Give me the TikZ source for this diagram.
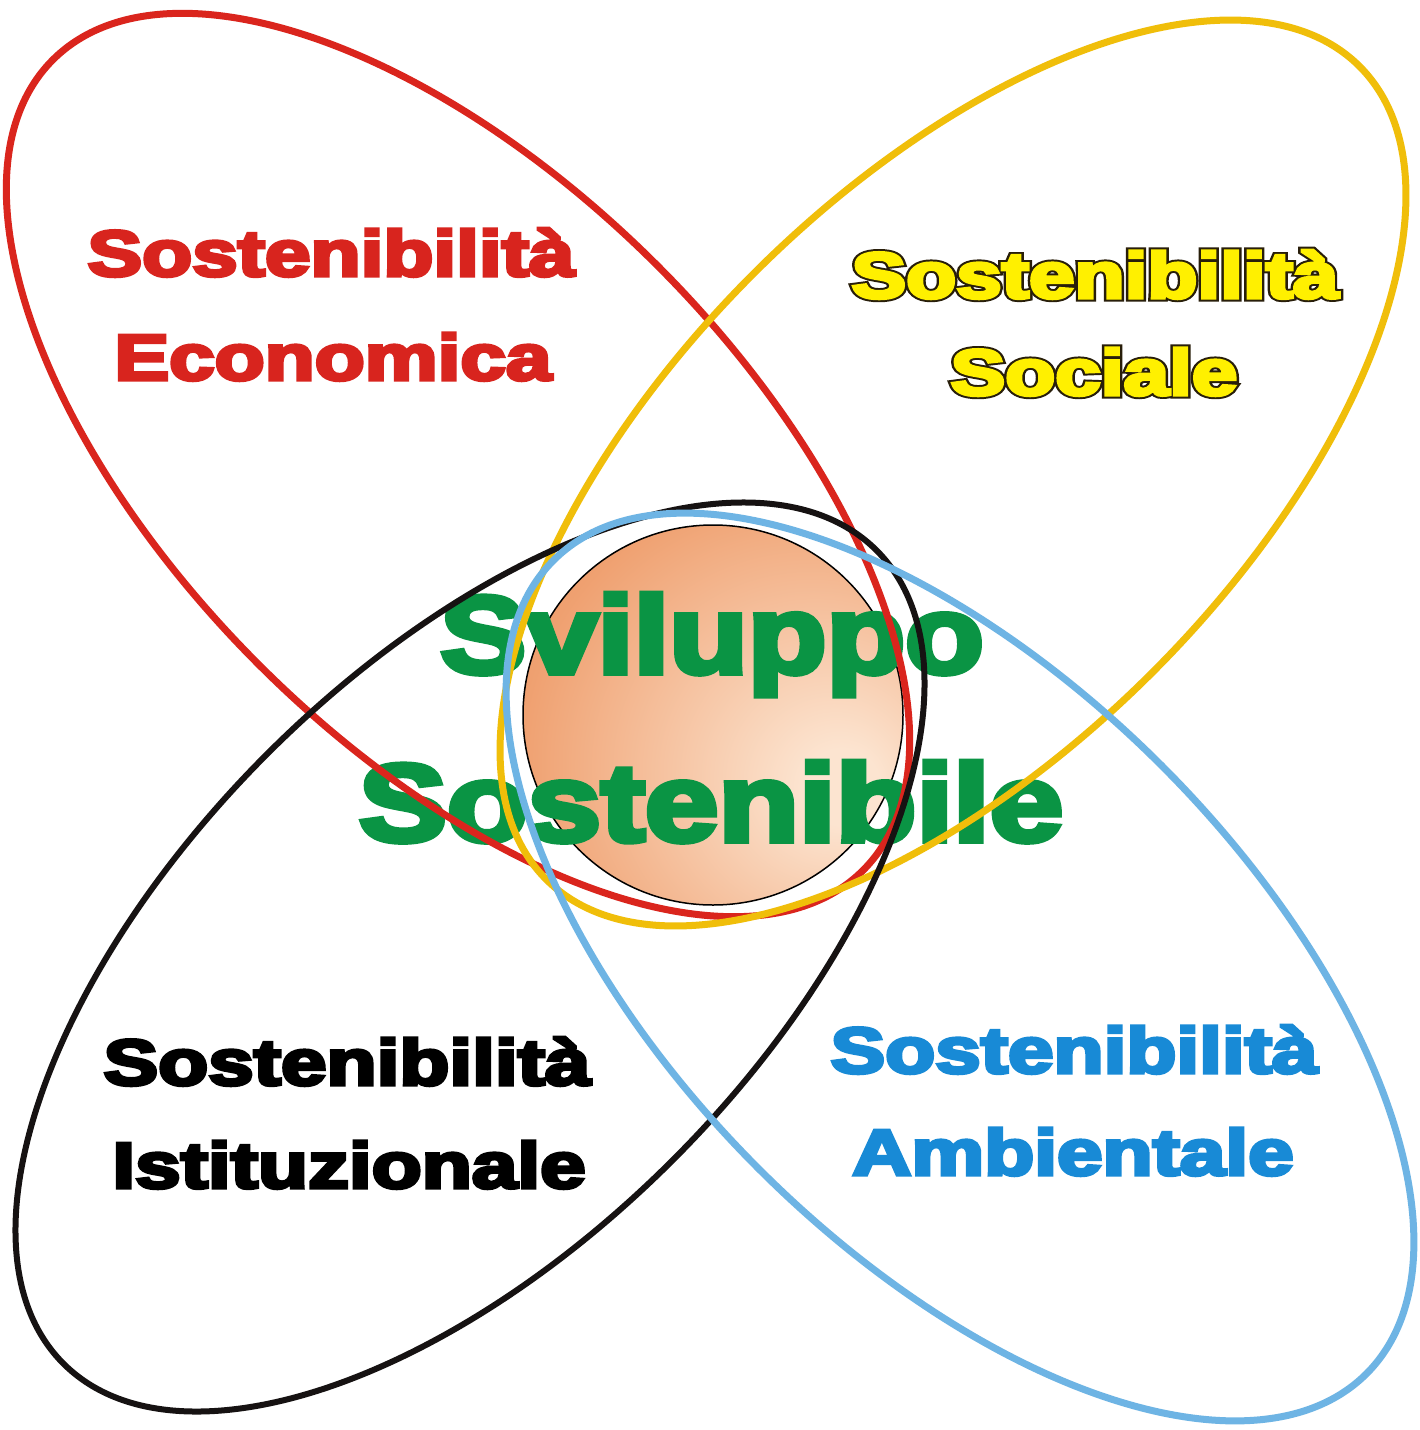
\documentclass[tikz,border=0pt]{standalone}
\usepackage{fontspec}
\setmainfont{Liberation Sans}
\newfontfamily\heavyf{Liberation Sans Bold}[FakeBold=5]
\newfontfamily\heavyo{Liberation Sans Bold}[FakeBold=11]
\usetikzlibrary{shapes.geometric}
\definecolor{ered}{RGB}{218,37,29}
\definecolor{eyellow}{RGB}{240,190,10}
\definecolor{eblack}{RGB}{22,18,18}
\definecolor{eblue}{RGB}{110,180,228}
\definecolor{tgreen}{RGB}{10,148,68}
\definecolor{tblue}{RGB}{24,138,214}
\definecolor{tred}{RGB}{216,36,30}
\definecolor{tyellow}{RGB}{255,240,0}
\definecolor{touter}{RGB}{40,30,10}
\definecolor{peach}{RGB}{252,228,208}
\definecolor{orng}{RGB}{234,132,72}
\pgfdeclareradialshading{orb}{\pgfpoint{18bp}{-10bp}}{color(0bp)=(peach); color(5bp)=(peach); color(36bp)=(orng!70!peach); color(58bp)=(orng); color(90bp)=(orng)}
\newcommand{\wide}[2]{\scalebox{#1}[1]{#2}}
\begin{document}
\begin{tikzpicture}[x=1pt,y=-1pt,
  ring/.style={line width=7pt},
  lbl/.style={anchor=base, inner sep=0pt, font=\heavyf\fontsize{65}{70}\selectfont},
  lblo/.style={anchor=base, inner sep=0pt, font=\heavyo\fontsize{65}{70}\selectfont},
  big/.style={anchor=base, inner sep=0pt, text=tgreen, font=\heavyf\fontsize{110}{114}\selectfont}]
\fill[white] (0,0) rectangle (1420,1430);
\useasboundingbox (0,0) rectangle (1420,1430);
% central orb
\node[circle, draw=black, line width=1.5pt, minimum size=380pt, inner sep=0pt, shade, shading=orb] (core) at (713,715) {};
% labels
\node[lbl, text=tred] (ecoA) at (331,276) {\wide{1.26}{Sostenibilità}};
\node[lbl, text=tred] (ecoB) at (333,380) {\wide{1.26}{Economica}};
\node[lblo, text=touter] (socAo) at (1095,298) {\wide{1.26}{Sostenibilità}};
\node[lbl, text=tyellow] (socA) at (1095,298) {\wide{1.26}{Sostenibilità}};
\node[lblo, text=touter] (socBo) at (1094,395) {\wide{1.26}{Sociale}};
\node[lbl, text=tyellow] (socB) at (1094,395) {\wide{1.26}{Sociale}};
\node[lbl, text=black] (istA) at (347,1085) {\wide{1.26}{Sostenibilità}};
\node[lbl, text=black] (istB) at (349,1188) {\wide{1.26}{Istituzionale}};
\node[lbl, text=tblue] (ambA) at (1074,1073) {\wide{1.26}{Sostenibilità}};
\node[lbl, text=tblue] (ambB) at (1073,1175) {\wide{1.26}{Ambientale}};
\node[big] (svA) at (712,673) {\wide{1.17}{Sviluppo}};
\node[big] (svB) at (711,841) {\wide{1.20}{Sostenibile}};
% ellipses
\draw[ring, ered, rotate around={-45:(458,465)}] (458,465) ellipse [x radius=573, y radius=282];
\draw[ring, eyellow, rotate around={45:(953,473)}] (953,473) ellipse [x radius=575, y radius=282];
\draw[ring, line width=6pt, eblack, rotate around={45:(470,957)}] (470,957) ellipse [x radius=575, y radius=287];
\draw[ring, eblue, rotate around={-45:(960,967)}] (960,967) ellipse [x radius=575, y radius=285];
\end{tikzpicture}
\end{document}
